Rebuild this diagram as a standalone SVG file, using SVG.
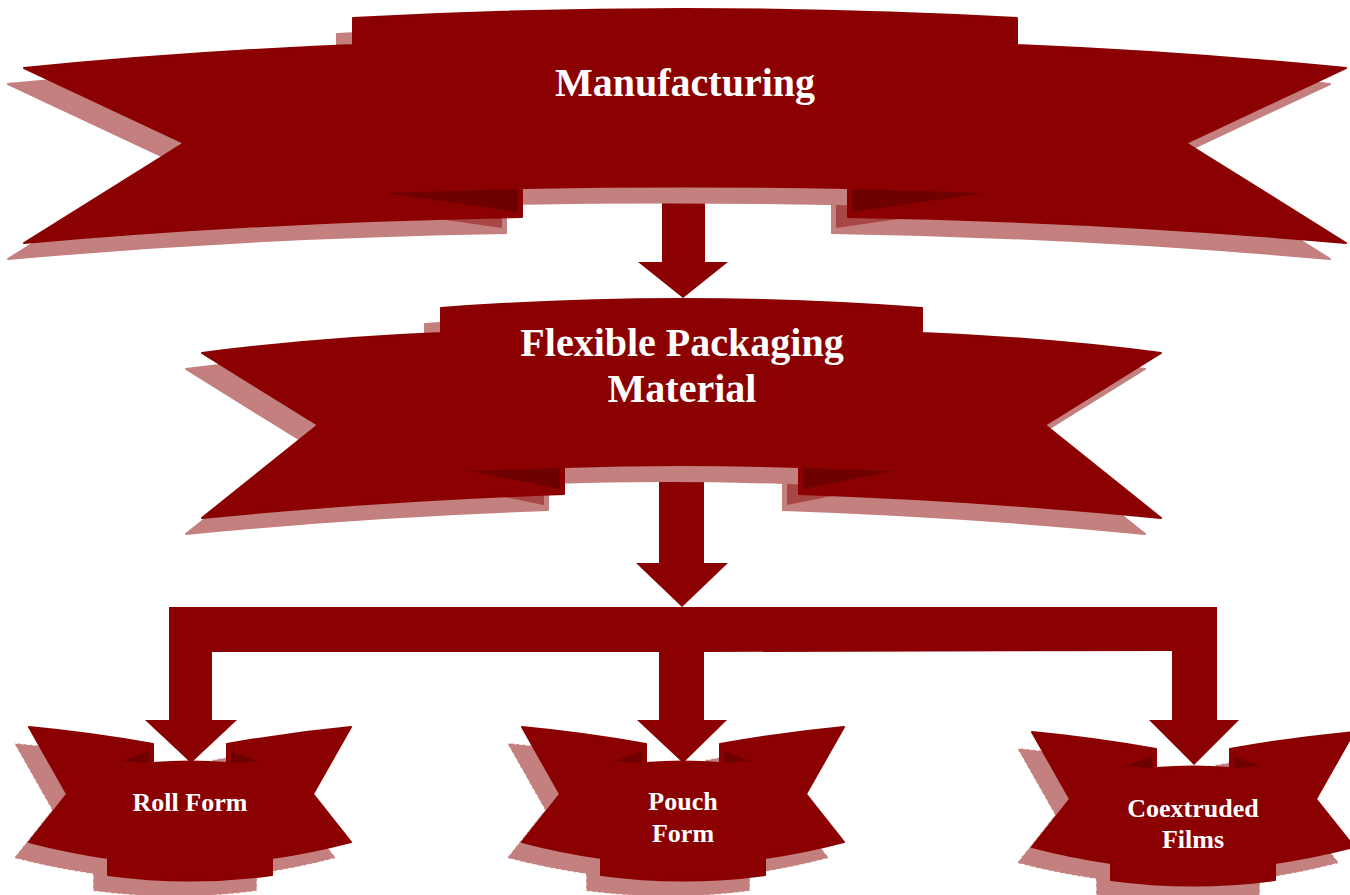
<svg xmlns="http://www.w3.org/2000/svg" xmlns:xlink="http://www.w3.org/1999/xlink" width="1350" height="895" viewBox="0 0 1350 895">
<style>
.main{fill:#8B0000;stroke:#8B0000;stroke-width:2;stroke-linejoin:round}
.fold{fill:#6E0000}
.shadow{fill:#C47F7F;stroke:#C47F7F;stroke-width:2;stroke-linejoin:round}
.shadowd{fill:#C47F7F;stroke:#FFFFFF;stroke-width:1;stroke-dasharray:4 2;stroke-linejoin:round}
.sfold{fill:#A84646}
.conn{fill:#8B0000}
.t1{font-family:"Liberation Serif","Times New Roman",serif;font-weight:bold;fill:#FFFFFF;text-anchor:middle}
</style>
<defs>
<path id="rib1" d="M353,18 Q685,0 1017,18 L1017,45 Q1185,52 1346,68 L1186,143 L1346,243 Q1100,221 848,217 L848,188 Q685,185 522,188 L522,217 Q270,221 24,243 L184,143 L24,68 Q185,52 353,45 Z"/>
<path id="f1L" d="M385,193 L518,189 L518,212 Z"/>
<path id="f1R" d="M985,193 L852,189 L852,212 Z"/>
<path id="rib2" d="M441,308 Q681.5,290 922,308 L922,333 Q1045,338 1161,353 L1045,425 L1161,518 Q980,500 799,494 L799,467 Q681.5,463 564,467 L564,494 Q383,500 202,518 L318,425 L202,353 Q318,338 441,333 Z"/>
<path id="f2L" d="M470,471 L560,468 L560,489 Z"/>
<path id="f2R" d="M893,471 L803,468 L803,489 Z"/>
<path id="rib3" d="M29,727 Q92,733 153,744 L153,763 Q190,760 227,763 L227,744 Q288,733 351,727 L313,794 L351,842 Q313,852 272,858 L272,875 Q190,886 108,875 L108,858 Q67,852 29,842 L67,794 Z"/>
<path id="f3" d="M122,761 L149,751 L149,763 Z M258,761 L231,751 L231,763 Z"/>
</defs>

<g id="connectors">
<polygon class="conn" points="662,186 705,186 705,262 728,262 683,298 638,262 662,262"/>
<polygon class="conn" points="659,466 704,466 704,563 728,563 682,607 636,563 659,563"/>
<polygon class="conn" points="169,607 1217,607 1217,720 1239,720 1194,765 1149,720 1172,720 1172,651 704,652 704,720 727,720 683,763 637,720 659,720 659,652 212,652 212,720 237,720 191,763 145,720 169,720"/>
</g>

<g id="manufacturing">
<use xlink:href="#rib1" href="#rib1" class="shadow" transform="translate(-16,16)"/>
<use xlink:href="#f1L" href="#f1L" class="sfold" transform="translate(-16,16)"/>
<use xlink:href="#f1R" href="#f1R" class="sfold" transform="translate(-16,16)"/>
<use xlink:href="#rib1" href="#rib1" class="main"/>
<use xlink:href="#f1L" href="#f1L" class="fold"/>
<use xlink:href="#f1R" href="#f1R" class="fold"/>
<text class="t1" x="685" y="96" font-size="40">Manufacturing</text>
</g>

<g id="flexible-packaging">
<use xlink:href="#rib2" href="#rib2" class="shadow" transform="translate(-16,16)"/>
<use xlink:href="#f2L" href="#f2L" class="sfold" transform="translate(-16,16)"/>
<use xlink:href="#f2R" href="#f2R" class="sfold" transform="translate(-16,16)"/>
<use xlink:href="#rib2" href="#rib2" class="main"/>
<use xlink:href="#f2L" href="#f2L" class="fold"/>
<use xlink:href="#f2R" href="#f2R" class="fold"/>
<text class="t1" x="682" y="356" font-size="40">Flexible Packaging</text>
<text class="t1" x="682" y="402" font-size="40">Material</text>
</g>

<g id="roll-form">
<use xlink:href="#rib3" href="#rib3" class="shadowd" transform="translate(-15,16)"/>
<use xlink:href="#rib3" href="#rib3" class="main"/>
<use xlink:href="#f3" href="#f3" class="fold"/>
<text class="t1" x="190" y="811" font-size="26">Roll Form</text>
</g>

<g id="pouch-form" transform="translate(493,0)">
<use xlink:href="#rib3" href="#rib3" class="shadowd" transform="translate(-15,16)"/>
<use xlink:href="#rib3" href="#rib3" class="main"/>
<use xlink:href="#f3" href="#f3" class="fold"/>
<text class="t1" x="190" y="810" font-size="26">Pouch</text>
<text class="t1" x="190" y="842" font-size="26">Form</text>
</g>

<g id="coextruded-films" transform="translate(1003,5)">
<use xlink:href="#rib3" href="#rib3" class="shadowd" transform="translate(-15,16)"/>
<use xlink:href="#rib3" href="#rib3" class="main"/>
<use xlink:href="#f3" href="#f3" class="fold"/>
<text class="t1" x="190" y="812" font-size="26">Coextruded</text>
<text class="t1" x="190" y="843" font-size="26">Films</text>
</g>
</svg>
